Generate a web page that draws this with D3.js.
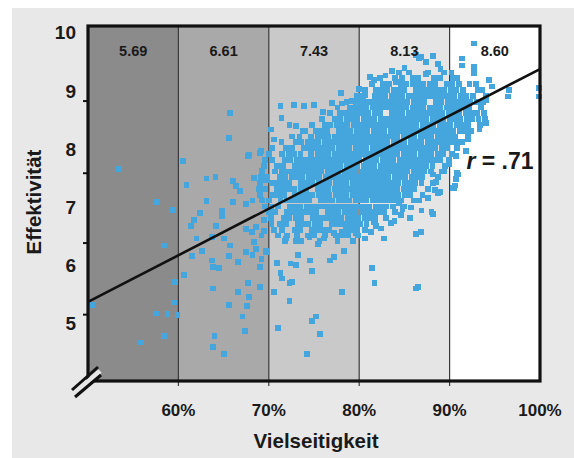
<!DOCTYPE html>
<html>
<head>
<meta charset="utf-8">
<script src="https://cdn.jsdelivr.net/npm/d3@7/dist/d3.min.js"></script>
<style>
  html, body { margin: 0; padding: 0; background: #ffffff; }
  svg { display: block; }
  text { font-family: "Liberation Sans", Arial, sans-serif; font-weight: bold; fill: #1a1a1a; }
</style>
</head>
<body>
<svg id="chart" width="574" height="458"></svg>
<script>
// ---------------- data ----------------
const bandStarts = [50, 60, 70, 80, 90];
const bandEnds   = [60, 70, 80, 90, 100];
const bandMeans  = ["5.69", "6.61", "7.43", "8.13", "8.60"];
const xTickValues = [60, 70, 80, 90, 100];
const xTickLabels = ["60%", "70%", "80%", "90%", "100%"];
const yLabelValues = [5, 6, 7, 8, 9, 10];
const yTickMarks = [5.14, 6.37, 7.57, 8.81];
const fitX = [50, 100];
const fitY = [5.36, 9.36];
const rText = ".71";

// scattered points [Vielseitigkeit %, Effektivität]
const sparsePoints = [
  [50.5,5.30],[53.4,7.64],[55.9,4.66],[57.5,5.16],[57.6,7.07],[58.4,6.33],[58.4,4.77],[58.8,5.15],
  [59.4,6.94],[59.5,5.35],[59.6,5.70],[59.9,5.14],[60.5,7.78],[60.9,7.37],[60.6,5.82],
  [61.4,6.66],[61.5,6.15],[61.7,6.76],[62.0,6.45],[62.4,6.88],[62.6,6.24],[63.1,7.48],[63.1,7.09],
  [63.7,6.47],[63.7,6.07],[63.8,5.96],[63.8,5.59],[63.8,4.58],[64.0,4.77],[64.1,7.51],[64.2,6.66],
  [64.5,5.94],[64.8,6.93],[64.8,6.84],[65.0,6.45],[65.0,4.47],[65.6,6.15],[65.6,5.31],[65.7,6.33],
  [65.7,8.61],[65.6,8.18],[66.0,7.44],[66.4,7.35],[66.8,7.27],[66.0,7.08],[66.6,6.05],[66.6,5.53],
  [67.1,5.11],[67.4,4.86],[67.5,7.04],[67.5,6.61],[67.5,6.22],[67.6,5.29],[67.7,5.68],[67.8,5.45],
  [67.7,7.86],[67.8,7.89],[68.1,6.56],[68.2,7.10],[68.2,6.16],[68.4,7.49],[68.4,6.39],[68.6,6.64],
  [68.6,6.27],[69.0,7.92],[69.0,7.41],[69.0,5.96],[69.0,5.62],[69.2,7.61],[69.2,7.12],[69.2,6.50],
  [69.2,6.10],[69.5,6.76],[69.5,6.58],[69.7,7.46],[69.7,6.22],[69.7,6.24],[69.1,7.95],
  [70.6,8.15],[70.6,5.53],[70.9,6.03],[71.0,4.91],[71.3,8.72],[71.3,5.85],[71.5,5.76],[71.9,6.45],
  [72.3,8.40],[72.3,5.68],[72.3,5.38],[72.4,6.02],[72.6,5.70],[72.8,8.74],[73.0,8.38],[73.0,6.40],
  [73.0,5.99],[73.2,6.16],[74.0,8.29],[74.2,4.47],[74.5,6.47],[74.6,6.07],[74.8,8.40],[74.8,5.89],
  [74.8,5.03],[75.0,8.74],[75.2,5.11],[75.4,6.36],[75.7,4.81],[76.1,6.45],[76.5,8.32],[76.8,6.07],
  [77.2,6.54],[77.2,6.13],[78.1,8.77],[78.1,6.56],[78.1,5.53],[78.3,6.24],[79.2,8.81],[79.6,6.54],
  [79.6,8.77],[79.7,6.56],[80.7,8.91],[81.4,5.94],[81.6,9.17],[81.6,6.73],[81.7,5.68],[81.9,6.67],
  [82.7,6.45],[82.9,9.25],[84.1,9.14],[86.3,9.60],[86.3,6.53],[86.3,5.59],[86.5,5.62],[86.6,9.54],
  [86.9,9.57],[86.9,6.93],[87.4,9.48],[87.4,9.28],[88.0,6.90],[88.2,9.58],[88.2,7.55],[88.2,6.87],
  [88.4,7.28],[88.7,9.45],[88.7,7.23],[89.0,7.25],[90.4,7.32],[90.5,7.32],[90.6,7.36],[90.7,7.86],
  [90.7,7.47],[90.8,7.57],[90.9,7.55],[91.4,9.54],[91.4,9.42],[91.8,7.95],[92.0,8.15],[92.7,9.80],
  [92.7,9.40],[92.7,9.29],[93.3,8.32],[93.8,8.60],[94.0,8.83],[94.0,8.43],[94.4,9.17],[94.7,9.06],
  [96.5,8.89],[96.6,9.00],[99.9,9.03],[99.9,8.89],[86.8,6.56],[85.6,6.80],[84.8,6.95],[83.9,6.75],
  [76.0,8.62],[77.0,8.78],[78.0,8.95],[80.0,9.02],[81.2,9.22],[83.6,9.32],[85.0,9.38],[89.0,9.36],
  [90.8,9.20],[92.9,9.10],[93.6,9.00],[80.6,6.45],[81.3,6.56],[82.4,6.62],[83.5,6.72],[84.6,6.85],
  [85.7,6.98],[86.6,7.10],[87.6,7.15],[88.5,7.42],[89.4,7.60],[89.9,7.72],[84.4,7.05],[71.4,8.52],
  [70.2,8.32],[73.9,8.72]
];

// dense cloud, read row by row: first value = Effektivität, rest = Vielseitigkeit %
const denseRows = [
  [9.3, 84.4, 85.5, 87.6, 89.4, 90.2],
  [9.2, 82.3, 84.0, 84.7, 85.9, 86.5, 88.3, 88.9, 90.4],
  [9.1, 81.4, 82.6, 83.3, 84.6, 85.2, 85.9, 86.5, 87.1, 87.8, 88.4, 89.7, 90.3, 91.0, 92.2],
  [9.0, 80.6, 81.9, 82.5, 83.1, 83.8, 84.4, 85.0, 86.3, 86.9, 87.5, 88.2, 88.8, 89.4, 90.1, 90.7, 91.5, 93.1],
  [8.9, 79.8, 80.4, 81.7, 82.3, 82.9, 83.6, 84.2, 84.8, 85.5, 86.1, 86.7, 87.4, 88.0, 88.6, 89.3, 89.9, 90.5, 91.2, 91.8, 92.6, 94.0],
  [8.8, 78.6, 79.7, 80.3, 80.9, 81.5, 82.2, 82.8, 83.4, 84.1, 84.7, 85.3, 86.0, 86.6, 87.2, 88.5, 89.1, 89.8, 90.4, 91.0, 91.7, 92.3, 93.0, 93.7],
  [8.7, 77.6, 79.0, 79.6, 80.2, 80.8, 81.5, 82.1, 82.7, 83.3, 84.0, 84.6, 85.2, 85.9, 86.5, 87.1, 87.8, 88.4, 89.0, 89.7, 90.3, 90.9, 91.6, 92.2, 93.5],
  [8.6, 76.8, 77.9, 78.5, 79.2, 79.8, 80.4, 81.0, 81.7, 82.3, 83.6, 84.2, 84.8, 85.5, 86.1, 86.7, 87.4, 88.0, 88.6, 89.2, 89.9, 90.5, 91.1, 91.8, 92.4, 93.0, 93.8],
  [8.5, 75.9, 77.3, 77.9, 78.6, 79.2, 79.8, 80.5, 81.1, 81.7, 82.4, 83.0, 83.6, 84.3, 84.9, 85.5, 86.2, 86.8, 87.4, 88.1, 88.7, 89.3, 90.0, 90.6, 91.2, 91.9, 92.5, 93.2, 93.9],
  [8.4, 74.8, 76.2, 76.8, 77.5, 78.1, 78.7, 79.4, 80.0, 80.6, 81.3, 81.9, 82.5, 83.2, 83.8, 84.4, 85.1, 85.7, 86.3, 87.0, 87.6, 88.2, 88.9, 89.5, 90.1, 90.8, 91.4, 92.0, 93.4],
  [8.3, 73.8, 75.2, 75.9, 76.5, 77.8, 78.4, 79.0, 79.7, 80.3, 80.9, 81.6, 82.2, 82.8, 83.5, 84.1, 84.7, 85.4, 86.0, 86.6, 87.3, 87.9, 88.5, 89.2, 89.8, 90.4, 91.1, 91.7, 92.4],
  [8.2, 72.6, 73.4, 74.7, 75.4, 76.0, 76.6, 77.3, 77.9, 78.5, 79.2, 79.8, 80.4, 81.1, 81.7, 82.3, 83.0, 83.6, 84.2, 84.9, 85.5, 86.1, 86.8, 87.4, 88.0, 88.7, 89.3, 89.9, 90.6, 92.0],
  [8.1, 71.4, 73.0, 73.6, 74.3, 74.9, 75.5, 76.2, 76.8, 77.4, 78.1, 78.7, 79.3, 80.0, 80.6, 81.2, 81.9, 82.5, 83.1, 83.8, 84.4, 85.0, 85.7, 86.3, 86.9, 87.6, 88.2, 88.8, 89.5, 90.1, 90.7, 91.4],
  [8.0, 70.4, 71.9, 72.6, 73.9, 74.5, 75.1, 75.8, 76.4, 77.0, 77.7, 78.3, 78.9, 79.6, 80.2, 80.8, 81.5, 82.1, 82.7, 83.4, 84.0, 84.6, 85.3, 85.9, 86.5, 87.2, 87.8, 88.4, 89.1, 89.7, 90.8],
  [7.9, 70.0, 71.5, 72.2, 72.8, 73.5, 74.7, 75.4, 76.0, 76.6, 77.3, 77.9, 78.5, 79.2, 79.8, 80.4, 81.1, 81.7, 82.3, 83.0, 83.6, 84.2, 84.9, 85.5, 86.1, 86.8, 87.4, 88.0, 88.7, 89.3, 90.3],
  [7.8, 69.6, 70.4, 71.8, 72.4, 73.1, 73.7, 74.3, 75.0, 75.6, 76.2, 76.9, 77.5, 78.1, 78.8, 79.4, 80.0, 80.7, 81.3, 81.9, 82.6, 83.2, 83.8, 84.5, 85.1, 85.7, 86.4, 87.0, 87.6, 88.3, 88.9, 89.9],
  [7.7, 69.5, 70.9, 71.6, 72.9, 73.5, 74.1, 74.8, 75.4, 76.0, 76.7, 77.3, 77.9, 78.6, 79.2, 79.8, 80.5, 81.1, 81.7, 82.4, 83.0, 83.6, 84.3, 84.9, 85.5, 86.2, 86.8, 87.4, 88.1, 89.5],
  [7.6, 69.3, 70.7, 71.4, 72.0, 72.7, 73.3, 73.9, 74.6, 75.2, 75.8, 76.5, 77.1, 77.7, 78.4, 79.0, 79.6, 80.3, 80.9, 81.5, 82.2, 82.8, 83.4, 84.1, 84.7, 85.3, 86.0, 86.6, 87.2, 87.9, 89.1],
  [7.5, 69.1, 69.8, 71.2, 71.8, 72.5, 73.1, 73.7, 74.4, 75.0, 75.6, 76.3, 76.9, 77.5, 78.2, 78.8, 79.4, 80.1, 80.7, 81.3, 82.0, 82.6, 83.2, 83.9, 84.5, 85.1, 85.8, 86.4, 87.0, 88.7],
  [7.4, 69.0, 70.4, 71.0, 71.7, 72.3, 73.6, 74.2, 74.8, 75.5, 76.1, 76.7, 77.4, 78.0, 78.6, 79.3, 79.9, 80.5, 81.2, 81.8, 82.4, 83.1, 83.7, 84.3, 85.0, 85.6, 86.2, 86.9, 88.2],
  [7.3, 68.9, 69.6, 70.9, 71.6, 72.2, 72.8, 73.5, 74.1, 75.4, 76.0, 76.6, 77.3, 77.9, 78.5, 79.2, 79.8, 80.4, 81.1, 81.7, 82.3, 83.0, 83.6, 84.2, 84.9, 85.5, 86.1, 87.6],
  [7.2, 69.0, 70.4, 71.0, 71.7, 72.9, 73.6, 74.2, 74.8, 75.5, 76.1, 76.7, 77.4, 78.0, 78.6, 79.3, 79.9, 80.5, 81.2, 81.8, 82.4, 83.1, 83.7, 84.3, 85.0, 85.6, 87.0],
  [7.1, 69.3, 70.0, 71.3, 72.0, 72.6, 73.2, 73.9, 74.5, 75.8, 76.4, 77.0, 77.7, 78.3, 78.9, 79.6, 80.2, 80.8, 81.5, 82.1, 82.7, 83.4, 84.0, 84.6, 86.0],
  [7.0, 69.6, 70.3, 71.0, 72.3, 72.9, 73.5, 74.2, 74.8, 75.4, 76.1, 76.7, 77.3, 78.0, 78.6, 79.2, 79.9, 80.5, 81.1, 81.8, 82.4, 83.0, 83.7, 85.0],
  [6.9, 70.0, 70.7, 72.0, 72.7, 73.3, 73.9, 74.6, 75.2, 76.5, 77.1, 77.7, 78.4, 79.0, 79.6, 80.3, 80.9, 81.5, 82.2, 82.8, 84.0],
  [6.8, 70.2, 71.7, 72.3, 73.0, 73.6, 74.9, 75.5, 76.1, 76.8, 77.4, 78.0, 78.7, 79.3, 79.9, 80.6, 81.2, 81.8, 83.0],
  [6.7, 70.3, 71.2, 71.9, 73.2, 73.8, 74.4, 75.1, 75.7, 77.0, 77.6, 78.2, 78.9, 79.5, 80.1, 80.8, 81.8],
  [6.6, 70.6, 71.5, 72.9, 73.5, 74.8, 75.4, 76.0, 76.7, 78.5, 79.2, 79.8, 80.6],
  [6.5, 71.0, 72.0, 73.1, 74.3, 75.0, 76.2, 77.4, 78.1, 78.8, 79.9],
  [6.4, 71.8, 73.6, 75.6, 77.6, 79.3]
];

// ---------------- drawing ----------------
const W = 574, H = 458;
const svg = d3.select("#chart");
const x = d3.scaleLinear().domain([50, 100]).range([88, 540]);
const y = d3.scaleLinear().domain([4, 10.1]).range([381, 26]);

const bandFill = d3.scaleOrdinal().domain(bandStarts).range(["#8b8b8b", "#a9a9a9", "#c9c9c9", "#e5e5e5", "#ffffff"]);

svg.append("rect").attr("x", 0).attr("y", 0).attr("width", W).attr("height", H).attr("fill", "#ffffff");
svg.append("rect").attr("x", 12).attr("y", 8).attr("width", W - 12).attr("height", H - 8).attr("fill", "#e8e8e8");

// bands
svg.append("g").selectAll("rect").data(bandStarts).join("rect")
  .attr("x", (d) => x(d))
  .attr("y", y(10.1))
  .attr("width", (d, i) => x(bandEnds[i]) - x(d))
  .attr("height", y(4) - y(10.1))
  .attr("fill", (d) => bandFill(d));

// separators
svg.append("g").selectAll("line").data(bandStarts.slice(1)).join("line")
  .attr("x1", (d) => x(d)).attr("x2", (d) => x(d))
  .attr("y1", y(10.1)).attr("y2", y(4) + 5)
  .attr("stroke", "#3a3a3a").attr("stroke-width", 1.2);

// points
const pts = sparsePoints.slice();
denseRows.forEach((row) => { for (let i = 1; i < row.length; i++) pts.push([row[i], row[0]]); });
const S = 5.8;
svg.append("g").attr("shape-rendering", "crispEdges").selectAll("rect").data(pts).join("rect")
  .attr("x", (d) => x(d[0]) - S / 2)
  .attr("y", (d) => y(d[1]) - S / 2)
  .attr("width", S).attr("height", S)
  .attr("fill", "#45a6de");

// regression line
svg.append("line")
  .attr("x1", x(fitX[0])).attr("y1", y(fitY[0]))
  .attr("x2", x(fitX[1])).attr("y2", y(fitY[1]))
  .attr("stroke", "#111").attr("stroke-width", 2.6);

// frame
svg.append("rect")
  .attr("x", x(50)).attr("y", y(10.1))
  .attr("width", x(100) - x(50)).attr("height", y(4) - y(10.1))
  .attr("fill", "none").attr("stroke", "#111").attr("stroke-width", 3.2);

// y tick marks
svg.append("g").selectAll("line").data(yTickMarks).join("line")
  .attr("x1", x(50) - 5).attr("x2", x(50))
  .attr("y1", (d) => y(d)).attr("y2", (d) => y(d))
  .attr("stroke", "#111").attr("stroke-width", 2);

// axis break
const bx = x(50), by = y(4);
svg.append("line").attr("x1", bx - 14).attr("y1", by + 13).attr("x2", bx + 12).attr("y2", by - 10)
  .attr("stroke", "#e8e8e8").attr("stroke-width", 5);
svg.append("line").attr("x1", bx - 16).attr("y1", by + 9).attr("x2", bx + 10).attr("y2", by - 14)
  .attr("stroke", "#111").attr("stroke-width", 3);
svg.append("line").attr("x1", bx - 13).attr("y1", by + 16).attr("x2", bx + 13).attr("y2", by - 6)
  .attr("stroke", "#111").attr("stroke-width", 3);

// band labels
svg.append("g").selectAll("text").data(bandMeans).join("text")
  .attr("x", (d, i) => (x(bandStarts[i]) + x(bandEnds[i])) / 2)
  .attr("y", 51)
  .attr("text-anchor", "middle").attr("dominant-baseline", "central")
  .attr("font-size", 14.5)
  .text((d) => d);

// y labels
svg.append("g").selectAll("text").data(yLabelValues).join("text")
  .attr("x", 76)
  .attr("y", (d) => y(d) + 1)
  .attr("text-anchor", "end").attr("dominant-baseline", "central")
  .attr("font-size", 19)
  .text((d) => d);

// x labels
svg.append("g").selectAll("text").data(xTickValues).join("text")
  .attr("x", (d) => x(d))
  .attr("y", 410)
  .attr("text-anchor", "middle").attr("dominant-baseline", "central")
  .attr("font-size", 17)
  .text((d, i) => xTickLabels[i]);

// axis titles
svg.append("text")
  .attr("x", 316).attr("y", 440)
  .attr("text-anchor", "middle").attr("dominant-baseline", "central")
  .attr("font-size", 20.5)
  .text("Vielseitigkeit");
svg.append("text")
  .attr("transform", "translate(33,202) rotate(-90)")
  .attr("text-anchor", "middle").attr("dominant-baseline", "central")
  .attr("font-size", 20.5)
  .text("Effektivität");

// r label
const rt = svg.append("text")
  .attr("x", 500).attr("y", 161)
  .attr("text-anchor", "middle").attr("dominant-baseline", "central")
  .attr("font-size", 23);
rt.append("tspan").attr("font-style", "italic").text("r");
rt.append("tspan").text(" = " + rText);
</script>
</body>
</html>
